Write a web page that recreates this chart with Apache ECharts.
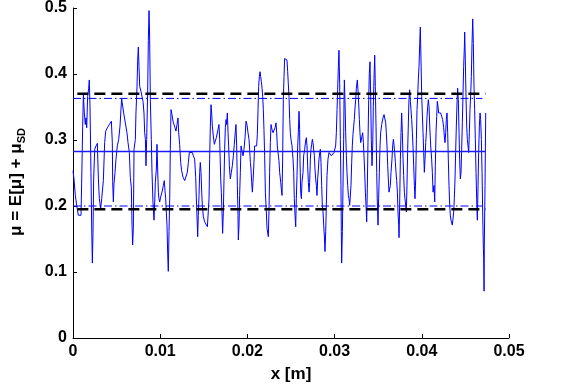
<!DOCTYPE html>
<html>
<head>
<meta charset="utf-8">
<script src="https://cdn.jsdelivr.net/npm/echarts@6/dist/echarts.min.js"></script>
<style>
html,body{margin:0;padding:0;background:#fff;}
#chart{width:561px;height:388px;}
</style>
</head>
<body>
<div id="chart"></div>
<script>
// position along x [m]
var xPos = [
0,0.00011,0.00027,0.00042,0.00061,0.00092,0.00099,0.00111,0.00119,0.0013,0.00141,0.00149,0.00157,0.00168,0.0018,0.00187,0.00195,0.00206,0.00214,0.00222,0.00229,0.00237,0.00249,0.00264,0.00279,0.00291,0.00302,0.00317,0.00329,0.00348,0.00363,0.00375,0.00394,0.00417,0.0044,0.00451,0.00455,0.00463,0.0047,0.00482,0.00493,0.00508,0.00524,0.00539,0.00551,0.00558,
0.00562,0.00581,0.006,0.00619,0.00631,0.00646,0.00657,0.00669,0.00677,0.00684,0.00692,0.007,0.00715,0.00722,0.00734,0.00742,0.00749,0.00757,0.00765,0.0078,0.00791,0.00803,0.00814,0.00822,0.0083,0.00837,0.00845,0.00856,0.00864,0.00872,0.00879,0.00887,0.00898,0.00906,0.00917,0.00929,0.00937,0.00944,0.00956,0.00963,0.00971,0.00979,0.00986,0.00994,0.01005,0.01021,0.01036,0.01047,0.01055,0.01063,0.0107,0.01078,0.01086,0.01093,0.01101,0.01109,0.01116,0.01124,0.01135,0.01147,0.01154,
0.01158,0.0117,0.01181,0.01193,0.01204,0.01212,0.01223,0.01235,0.01246,0.01262,0.01281,0.01296,0.01311,0.01323,0.01334,0.01349,0.01369,0.0138,0.01395,0.01407,0.01414,0.01422,0.0143,0.01437,0.01445,0.01453,0.0146,0.01468,0.01476,0.01483,0.01495,0.0151,0.01525,0.01541,0.01552,0.0156,0.01567,0.01575,0.01583,0.0159,0.01598,0.01609,0.01621,0.01632,0.01644,0.01655,0.01663,0.01674,0.01682,0.01694,0.01701,0.01709,0.01716,0.01724,0.01732,0.01739,0.01747,
0.01755,0.01762,0.0177,0.01778,0.01785,0.01793,0.01804,0.01816,0.01827,0.01839,0.0185,0.01862,0.01869,0.01877,0.01885,0.01892,0.01896,0.01904,0.01911,0.01919,0.01927,0.01938,0.0195,0.01961,0.01973,0.01984,0.01995,0.02007,0.02018,0.02026,0.02034,0.02041,0.02049,0.02057,0.02064,0.02072,0.02083,0.02095,0.02106,0.02114,0.02122,0.02129,0.02137,0.02145,0.02152,0.0216,0.02168,0.02175,0.02183,0.0219,0.02198,0.02206,0.02217,0.02225,0.02233,0.0224,0.02248,0.02255,0.02263,0.02271,0.02282,0.02294,0.02305,0.02317,0.02328,0.02336,0.02343,
0.02351,0.02362,0.0237,0.02382,0.02389,0.02397,0.02404,0.02412,0.0242,0.02427,0.02443,0.02454,0.02462,0.02469,0.02477,0.02485,0.02492,0.025,0.02512,0.02523,0.02531,0.02538,0.02546,0.02554,0.02561,0.02569,0.02577,0.02584,0.02592,0.02599,0.02603,0.02611,0.02619,0.02626,0.02638,0.02645,0.02657,0.02668,0.02676,0.02684,0.02691,0.02699,0.02707,0.02714,0.02722,0.02729,0.02737,0.02745,0.02752,0.0276,0.02768,0.02775,0.02783,0.02791,0.02798,0.02806,0.02814,0.02821,0.02829,0.02837,0.02844,0.02852,0.02859,0.02867,0.02875,0.02882,0.0289,0.02898,0.02905,0.02913,0.02924,0.02936,0.02944,
0.02947,0.02963,0.02978,0.02993,0.03005,0.03012,0.0302,0.03028,0.03035,0.03043,0.0305,0.03058,0.03066,0.03073,0.03077,0.03081,0.03089,0.03096,0.03104,0.03108,0.03112,0.03119,0.03127,0.03135,0.03142,0.0315,0.03158,0.03165,0.03173,0.0318,0.03188,0.03196,0.03203,0.03211,0.03219,0.03226,0.03234,0.03242,0.03249,0.03261,0.03268,0.03276,0.03284,0.03291,0.03299,0.03307,0.03314,0.03322,0.0333,0.03337,0.03345,0.03353,0.0336,0.03368,0.03375,0.03383,0.03391,0.03398,0.03406,0.03414,0.03421,0.03429,0.03437,0.03444,0.03452,0.0346,0.03467,0.03475,0.03483,0.0349,0.03498,0.03505,0.03513,0.03521,0.03528,0.0354,
0.03544,0.03555,0.03567,0.03578,0.03586,0.03593,0.03601,0.03609,0.03616,0.03624,0.03632,0.03639,0.03647,0.03658,0.03666,0.03674,0.03681,0.03689,0.03697,0.03704,0.03712,0.0372,0.03727,0.03735,0.03739,0.03746,0.03754,0.03762,0.03769,0.03777,0.03785,0.03792,0.038,0.03807,0.03815,0.03823,0.0383,0.03838,0.03846,0.03853,0.03861,0.03869,0.03876,0.03884,0.03892,0.03899,0.03907,0.03915,0.03922,0.0393,0.03938,0.03945,0.03953,0.0396,0.03968,0.03976,0.03983,0.03991,0.03999,0.04006,0.04014,0.04022,0.04029,0.04037,0.04045,0.04052,0.0406,0.04068,0.04075,0.04083,0.04091,0.04102,0.04113,0.04121,0.04129,
0.0414,0.04148,0.04155,0.04163,0.04171,0.04178,0.04186,0.04193,0.04205,0.04216,0.04228,0.04239,0.04251,0.04258,0.04266,0.04274,0.04281,0.04289,0.04297,0.04304,0.04312,0.0432,0.04327,0.04335,0.04343,0.0435,0.04358,0.04366,0.04373,0.04381,0.04388,0.04396,0.04404,0.04411,0.04419,0.04427,0.04434,0.04442,0.0445,0.04457,0.04465,0.04473,0.0448,0.04488,0.04492,0.04499,0.04507,0.04515,0.04522,0.0453,0.04538,0.04545,0.04553,0.04561,0.04568,0.04576,0.04584,0.04591,0.04599,0.04606,0.04614,0.04622,0.04629,0.04637,0.04645,0.04652,0.0466,0.04668,0.04675,0.04683,0.04691,0.04698,0.04706,0.0471,0.04714,0.04717,0.04725,0.04733
];
// mu = E[mu] + mu_SD
var muVals = [
0.2535,0.241,0.216,0.201,0.186,0.186,0.2335,0.321,0.3685,0.341,0.3235,0.3335,0.3185,0.366,0.3785,0.391,0.351,0.251,0.171,0.1135,0.1585,0.241,0.286,0.291,0.295,0.241,0.211,0.196,0.211,0.2385,0.296,0.3135,0.3185,0.3235,0.3285,0.296,0.237,0.206,0.2335,0.251,0.271,0.291,0.301,0.321,0.3485,0.3635,
0.3585,0.341,0.326,0.311,0.296,0.281,0.2435,0.2285,0.171,0.141,0.166,0.286,0.301,0.341,0.381,0.421,0.441,0.411,0.381,0.3735,0.366,0.3585,0.341,0.311,0.301,0.261,0.301,0.371,0.451,0.496,0.456,0.361,0.301,0.251,0.206,0.1785,0.206,0.236,0.256,0.2935,0.256,0.221,0.211,0.206,0.2135,0.221,0.231,0.2385,0.2235,0.211,0.191,0.171,0.126,0.101,0.161,0.211,0.286,0.346,0.3385,0.3285,0.326,
0.326,0.3185,0.3135,0.3235,0.3335,0.311,0.2935,0.266,0.2535,0.2435,0.2385,0.241,0.251,0.266,0.281,0.281,0.281,0.276,0.271,0.2435,0.2135,0.1835,0.1535,0.186,0.216,0.251,0.266,0.251,0.221,0.201,0.1835,0.176,0.1735,0.1685,0.166,0.211,0.271,0.321,0.3535,0.341,0.321,0.306,0.2935,0.2985,0.3035,0.306,0.316,0.3235,0.301,0.241,0.221,0.1885,0.1585,0.191,0.241,0.286,0.3185,
0.331,0.3235,0.341,0.311,0.291,0.261,0.241,0.251,0.261,0.276,0.2935,0.3135,0.3235,0.291,0.231,0.186,0.1485,0.171,0.216,0.251,0.291,0.2835,0.276,0.286,0.3035,0.3285,0.3235,0.311,0.301,0.286,0.266,0.256,0.236,0.221,0.236,0.256,0.291,0.292,0.291,0.3085,0.346,0.381,0.396,0.4035,0.396,0.3885,0.3785,0.366,0.346,0.316,0.276,0.221,0.191,0.166,0.1685,0.1535,0.196,0.251,0.296,0.3235,0.316,0.311,0.3135,0.3185,0.326,0.311,0.291,
0.291,0.2685,0.251,0.236,0.226,0.216,0.271,0.361,0.396,0.4235,0.4235,0.421,0.4035,0.386,0.366,0.331,0.311,0.301,0.291,0.271,0.251,0.211,0.186,0.1685,0.211,0.246,0.291,0.311,0.3435,0.316,0.271,0.221,0.211,0.236,0.251,0.276,0.286,0.2985,0.3035,0.291,0.261,0.236,0.221,0.236,0.271,0.286,0.2935,0.301,0.296,0.296,0.276,0.256,0.241,0.231,0.216,0.241,0.256,0.271,0.281,0.286,0.266,0.231,0.201,0.191,0.171,0.156,0.131,0.161,0.201,0.246,0.271,0.281,0.2835,
0.2785,0.276,0.2785,0.281,0.2835,0.291,0.311,0.346,0.376,0.411,0.436,0.386,0.301,0.231,0.161,0.1135,0.161,0.226,0.301,0.361,0.391,0.361,0.311,0.276,0.251,0.231,0.216,0.211,0.201,0.1985,0.231,0.266,0.291,0.3085,0.321,0.331,0.3485,0.361,0.3785,0.391,0.376,0.356,0.331,0.311,0.296,0.2935,0.306,0.311,0.296,0.276,0.251,0.221,0.201,0.176,0.226,0.296,0.361,0.401,0.4185,0.366,0.301,0.261,0.291,0.351,0.3935,0.4285,0.381,0.321,0.251,0.206,0.171,0.211,0.251,0.291,0.311,0.3235,
0.326,0.3335,0.3385,0.341,0.326,0.311,0.291,0.261,0.241,0.221,0.2185,0.231,0.251,0.271,0.291,0.301,0.2935,0.281,0.266,0.251,0.2385,0.221,0.191,0.171,0.152,0.201,0.271,0.311,0.341,0.311,0.271,0.246,0.221,0.211,0.201,0.191,0.231,0.286,0.326,0.361,0.376,0.3585,0.346,0.331,0.311,0.291,0.261,0.231,0.211,0.241,0.301,0.346,0.366,0.391,0.411,0.446,0.471,0.421,0.366,0.341,0.311,0.281,0.251,0.271,0.296,0.311,0.336,0.351,0.361,0.351,0.321,0.291,0.271,0.251,0.221,
0.231,0.206,0.261,0.311,0.336,0.3585,0.351,0.341,0.3385,0.341,0.336,0.331,0.3185,0.306,0.296,0.311,0.331,0.341,0.311,0.271,0.231,0.201,0.186,0.1785,0.176,0.171,0.1685,0.191,0.211,0.241,0.281,0.321,0.356,0.3785,0.361,0.311,0.271,0.241,0.251,0.286,0.326,0.371,0.411,0.441,0.4635,0.421,0.366,0.321,0.301,0.291,0.281,0.311,0.346,0.371,0.396,0.446,0.4835,0.446,0.3785,0.346,0.301,0.251,0.211,0.1785,0.231,0.281,0.321,0.341,0.331,0.301,0.251,0.191,0.136,0.121,0.071,0.141,0.231,0.341
];
// reference levels
var meanLevel = 0.2826;
var sdLevels = [0.363, 0.200];
var boundLevels = [0.370, 0.195];
var levelStartX = 0;
var levelEndX = 0.04733;
var sdEndX = 0.04694;
var boundStartX = 0.0005;
// axis ticks
var xTicks = [0, 0.01, 0.02, 0.03, 0.04, 0.05];
var yTicks = [0, 0.1, 0.2, 0.3, 0.4, 0.5];

var n = Math.min(xPos.length, muVals.length);
var trace = [];
for (var i = 0; i < n; i++) trace.push([xPos[i], muVals[i]]);

var FONT = "'Liberation Sans', Arial, Helvetica, sans-serif";
var BLUE = '#0000ff';

function hline(y, x0, x1, style, z) {
  return {
    type: 'line', data: [[x0, y], [x1, y]], showSymbol: false, symbol: 'none',
    silent: true, lineStyle: style, animation: false, z: z
  };
}

var series = [
  { type: 'line', data: trace, showSymbol: false, symbol: 'none', silent: true,
    lineStyle: { color: BLUE, width: 1 }, animation: false, z: 2 },
  hline(meanLevel, levelStartX, levelEndX, { color: '#1a1aff', width: 1.4, type: 'solid' }, 3)
];
sdLevels.forEach(function (v) {
  series.push(hline(v, levelStartX, sdEndX, { color: BLUE, width: 1, type: [8, 3, 1.5, 3] }, 3));
});
boundLevels.forEach(function (v) {
  series.push(hline(v, boundStartX, levelEndX, { color: '#000000', width: 2.5, type: [11, 6] }, 4));
});

var chart = echarts.init(document.getElementById('chart'), null, { renderer: 'canvas' });
chart.setOption({
  animation: false,
  backgroundColor: '#ffffff',
  grid: { left: 73, right: 52, top: 7, bottom: 47 },
  xAxis: {
    type: 'value', min: xTicks[0], max: xTicks[xTicks.length - 1], interval: 0.01,
    name: 'x [m]', nameLocation: 'middle', nameGap: 28,
    nameTextStyle: { fontFamily: FONT, fontWeight: 'bold', fontSize: 17, color: '#000' },
    axisLine: { show: true, lineStyle: { color: '#000', width: 1 } },
    axisTick: { show: true, inside: true, length: 4, lineStyle: { color: '#000' } },
    axisLabel: { fontFamily: FONT, fontWeight: 'bold', fontSize: 16, color: '#000', margin: 6,
      formatter: function (v) { return String(+v.toFixed(2)); } },
    splitLine: { show: false }
  },
  yAxis: {
    type: 'value', min: yTicks[0], max: yTicks[yTicks.length - 1], interval: 0.1,
    name: '{n|μ = E[μ] + μ}{s|SD}', nameLocation: 'middle', nameGap: 46, nameRotate: 90,
    nameTextStyle: { fontFamily: FONT, fontWeight: 'bold', fontSize: 17, color: '#000',
      padding: [0, 18, 0, 0],
      rich: {
        n: { fontFamily: FONT, fontWeight: 'bold', fontSize: 17, color: '#000' },
        s: { fontFamily: FONT, fontWeight: 'bold', fontSize: 11, color: '#000', padding: [10, 0, 0, 0] }
      } },
    axisLine: { show: true, lineStyle: { color: '#000', width: 1 } },
    axisTick: { show: true, inside: true, length: 4, lineStyle: { color: '#000' } },
    axisLabel: { fontFamily: FONT, fontWeight: 'bold', fontSize: 16, color: '#000', margin: 6,
      formatter: function (v) { return String(+v.toFixed(1)); } },
    splitLine: { show: false }
  },
  series: series
});
</script>
</body>
</html>
